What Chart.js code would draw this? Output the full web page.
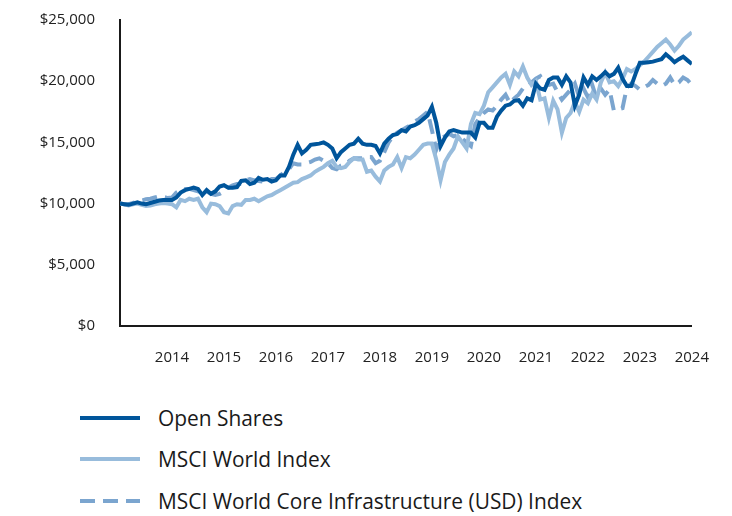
<!DOCTYPE html>
<html>
<head>
<meta charset="utf-8">
<script src="https://cdn.jsdelivr.net/npm/chart.js@4.4.0/dist/chart.umd.min.js"></script>
<style>
  html, body { margin: 0; padding: 0; background: #fff; }
  #wrap { position: relative; width: 732px; height: 516px; font-family: "Open Sans", "Noto Sans", sans-serif; }
  #chartBox { position: absolute; left: 0; top: 0; width: 732px; height: 380px; }
  #legend { position: absolute; left: 80px; top: 397px; }
  .item { display: flex; align-items: center; height: 41.5px; font-size: 20.9px; color: #1a1a1a; }
  .item svg { margin-right: 18px; }
</style>
</head>
<body>
<div id="wrap">
  <div id="chartBox"><canvas id="c"></canvas></div>
  <div id="legend"></div>
</div>
<script>
// Series labels
const seriesNames = ["Open Shares", "MSCI World Index", "MSCI World Core Infrastructure (USD) Index"];
// Year tick labels on the x axis
const yearTicks = [2014, 2015, 2016, 2017, 2018, 2019, 2020, 2021, 2022, 2023, 2024];
// Y tick labels
const valueTicks = [0, 5000, 10000, 15000, 20000, 25000];
// Monthly observations start (first month of 2013)
const startYear = 2013;

// Values in thousands of dollars, monthly
const openShares = [
  10.0, 9.95, 9.9, 10.0, 10.1, 10.0, 9.95, 10.05, 10.15, 10.25, 10.3, 10.3,
  10.3, 10.5, 10.9, 11.1, 11.2, 11.3, 11.2, 10.7, 11.1, 10.8, 11.0, 11.4,
  11.5, 11.3, 11.3, 11.35, 11.85, 11.9, 11.6, 11.7, 12.1, 11.95, 12.0, 11.8,
  11.9, 12.3, 12.3, 13.0, 14.0, 14.8, 14.1, 14.4, 14.8, 14.85, 14.9, 15.0,
  14.8, 14.5, 13.7, 14.2, 14.5, 14.8, 14.9, 15.3, 14.9, 14.8, 14.8, 14.7,
  14.1, 14.9, 15.3, 15.6, 15.7, 16.0, 15.9, 16.3, 16.4, 16.6, 16.9, 17.2,
  17.9, 16.6, 14.7, 15.4, 15.9, 16.0, 15.9, 15.8, 15.8, 15.8, 15.4, 16.6,
  16.6, 16.2, 16.2, 17.1, 17.6, 18.0, 18.1, 18.4, 18.45, 18.0, 18.6, 18.45,
  19.8, 19.4, 19.3, 20.1, 20.3, 20.3, 19.7, 20.4, 19.9, 18.0, 18.9, 20.3,
  19.7, 20.4, 20.1, 20.4, 20.75, 20.4, 20.6, 21.1, 20.2, 19.6, 19.6, 20.6,
  21.5, 21.5, 21.55, 21.6, 21.7, 21.8, 22.2, 21.9, 21.55, 21.8, 22.0, 21.7,
  21.4
];
const msciWorld = [
  10.0, 9.95, 9.85, 9.95, 10.0, 9.9, 9.8, 9.85, 9.95, 10.0, 10.05, 10.0,
  9.95, 9.7, 10.3, 10.2, 10.4, 10.3, 10.4, 9.7, 9.3, 10.0, 9.95, 9.8,
  9.3, 9.2, 9.8, 9.95, 9.9, 10.3, 10.3, 10.4, 10.2, 10.4, 10.6, 10.7,
  10.9, 11.1, 11.3, 11.5, 11.7, 11.75, 12.0, 12.15, 12.3, 12.6, 12.8, 13.0,
  13.3, 13.5, 13.0, 12.9, 13.0, 13.4, 13.7, 13.6, 13.6, 12.6, 12.7, 12.2,
  11.8, 12.7, 13.0, 13.2, 13.8, 12.9, 13.8, 13.7, 14.0, 14.4, 14.8, 14.9,
  14.9, 13.6, 11.9, 13.4, 14.0, 14.5, 15.5, 15.0, 14.5, 16.5, 17.4, 17.3,
  18.0, 19.1, 19.5, 19.9, 20.3, 20.6, 19.7, 20.8, 20.4, 21.2, 20.3, 19.7,
  20.0, 18.5, 18.6, 17.0, 18.4, 17.7, 15.8, 17.0, 17.4, 18.3, 17.5, 18.5,
  18.2, 19.0, 18.5, 19.9, 20.7, 19.9, 20.0, 19.6, 20.2, 21.0, 20.8, 21.0,
  21.3, 21.6, 22.0, 22.4, 22.8, 23.1, 23.4, 23.0, 22.5, 22.9, 23.4, 23.7,
  24.0
];
const infraIndex = [
  10.0, 9.95, 9.95, 10.05, 10.15, 10.25, 10.35, 10.4, 10.5, 10.6, 10.55, 10.45,
  10.5, 10.9, 11.1, 11.2, 11.2, 11.1, 11.0, 10.9, 11.0, 10.8, 10.7, 10.8,
  11.0, 11.3, 11.5, 11.6, 11.6, 11.9, 12.0, 11.9, 11.85, 11.8, 11.9, 12.0,
  12.0, 12.3, 12.6, 12.8, 13.3, 13.2, 13.2, 13.3, 13.4, 13.6, 13.7, 13.5,
  13.3, 12.9, 12.8, 13.1, 13.2, 13.5, 13.7, 13.7, 13.7, 13.8, 13.8, 13.3,
  13.5, 14.2, 15.0, 15.5, 15.8, 16.0, 16.2, 16.4, 16.7, 16.9, 17.2, 17.5,
  16.0, 14.4, 15.3, 15.5, 15.7, 15.5, 15.6, 15.3, 15.0, 14.7, 16.5, 17.0,
  17.4, 17.7, 17.6, 18.0, 18.5, 18.9, 18.2, 18.6, 18.9, 19.4, 19.5, 19.9,
  20.2, 20.4, 19.8, 19.7, 19.8, 19.1, 18.5, 18.9, 19.3, 19.8, 18.7, 19.4,
  18.7, 19.7, 18.6, 19.4, 18.9, 19.3, 17.6, 17.7, 17.8, 19.5, 19.8, 19.6,
  19.3, 19.5, 19.7, 20.1, 19.8, 19.6, 19.8, 20.3, 19.7, 19.9, 20.3, 20.1,
  19.7
];

const colors = ["#00559B", "#98BCDC", "#7BA5CF"];
const dashes = [[], [], [15, 8]];

function toPoints(arr) {
  return arr.map((v, i) => ({ x: startYear + i / 12, y: v * 1000 }));
}
const seriesValues = [openShares, msciWorld, infraIndex];

const datasets = seriesValues.map((arr, k) => ({
  label: seriesNames[k],
  data: toPoints(arr),
  borderColor: colors[k],
  backgroundColor: colors[k],
  borderWidth: 4,
  borderDash: dashes[k],
  pointRadius: 0,
  tension: 0,
  fill: false
}));

const fontFam = '"Open Sans", "Noto Sans", sans-serif';

new Chart(document.getElementById('c'), {
  type: 'line',
  data: { datasets },
  options: {
    responsive: true,
    maintainAspectRatio: false,
    animation: false,
    layout: { padding: { top: 20, right: 40, left: 0, bottom: 0 } },
    plugins: { legend: { display: false }, tooltip: { enabled: false } },
    scales: {
      x: {
        type: 'linear',
        min: startYear,
        max: yearTicks[yearTicks.length - 1],
        grid: { display: false, drawTicks: false },
        border: { display: true, color: '#1a1a1a', width: 2 },
        afterBuildTicks: (s) => { s.ticks = yearTicks.map(v => ({ value: v })); },
        ticks: {
          padding: 23,
          color: '#222',
          font: { family: fontFam, size: 15 },
          callback: (v) => String(v),
          maxRotation: 0,
          autoSkip: false
        },
        afterFit: (s) => { s.height = 54; }
      },
      y: {
        min: 0,
        max: 25000,
        grid: { display: false, drawTicks: false },
        border: { display: true, color: '#1a1a1a', width: 2 },
        afterBuildTicks: (s) => { s.ticks = valueTicks.map(v => ({ value: v })); },
        ticks: {
          padding: 25,
          color: '#222',
          font: { family: fontFam, size: 15 },
          callback: (v) => '$' + v.toLocaleString('en-US')
        },
        afterFit: (s) => { s.width = 120; s.paddingTop = 0; s.paddingBottom = 0; }
      }
    }
  }
});

// HTML legend
const legend = document.getElementById('legend');
seriesNames.forEach((name, k) => {
  const div = document.createElement('div');
  div.className = 'item';
  const dash = dashes[k].length ? `stroke-dasharray="${dashes[k].join(' ')}"` : '';
  div.innerHTML = `<svg width="60" height="8"><line x1="0" y1="4" x2="60" y2="4" stroke="${colors[k]}" stroke-width="4" ${dash}/></svg><span>${name}</span>`;
  legend.appendChild(div);
});
</script>
</body>
</html>
